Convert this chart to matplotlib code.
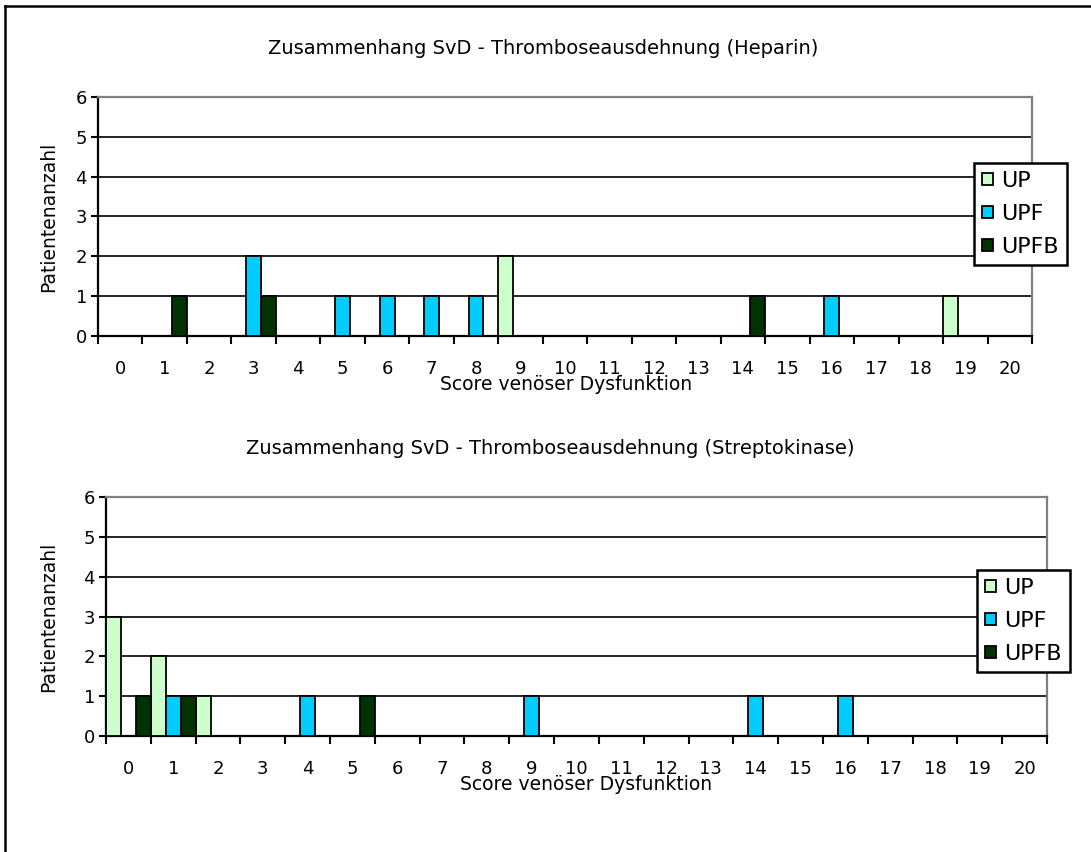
import matplotlib
matplotlib.use('Agg')
import matplotlib.pyplot as plt
from matplotlib.patches import Patch
from matplotlib.lines import Line2D
import numpy as np

# ---------------- data ----------------
scores = list(range(21))
score_labels = [str(s) for s in scores]
series_names = ['UP', 'UPF', 'UPFB']
series_colors = ['#CCFFCC', '#00CCFF', '#003300']

hep_up   = [0, 0, 0, 0, 0, 0, 0, 0, 0, 2, 0, 0, 0, 0, 0, 0, 0, 0, 0, 1, 0]
hep_upf  = [0, 0, 0, 2, 0, 1, 1, 1, 1, 0, 0, 0, 0, 0, 0, 0, 1, 0, 0, 0, 0]
hep_upfb = [0, 1, 0, 1, 0, 0, 0, 0, 0, 0, 0, 0, 0, 0, 1, 0, 0, 0, 0, 0, 0]

strep_up   = [3, 2, 1, 0, 0, 0, 0, 0, 0, 0, 0, 0, 0, 0, 0, 0, 0, 0, 0, 0, 0]
strep_upf  = [0, 1, 0, 0, 1, 0, 0, 0, 0, 1, 0, 0, 0, 0, 1, 0, 1, 0, 0, 0, 0]
strep_upfb = [1, 1, 0, 0, 0, 1, 0, 0, 0, 0, 0, 0, 0, 0, 0, 0, 0, 0, 0, 0, 0]

title_hep = 'Zusammenhang SvD - Thromboseausdehnung (Heparin)'
title_strep = 'Zusammenhang SvD - Thromboseausdehnung (Streptokinase)'
xlabel = 'Score venöser Dysfunktion'
ylabel = 'Patientenanzahl'
yticks = [0, 1, 2, 3, 4, 5, 6]

# ---------------- style ----------------
plt.rcParams['font.family'] = ['DejaVu Sans']
FS_TICK = 13
FS_TITLE = 14
FS_LABEL = 13.5
W, H = 1091, 852
fig = plt.figure(figsize=(W / 100, H / 100), dpi=100)


def rect(l, r, t, b):
    return [l / W, 1 - b / H, (r - l) / W, (b - t) / H]


def draw(ax, data, legend_box, legend_fs):
    x = np.arange(len(scores))
    for k, (vals, c) in enumerate(zip(data, series_colors)):
        ax.bar(x + (k - 1) / 3, vals, width=1 / 3, color=c,
               edgecolor='black', linewidth=1.3, zorder=3)
    ax.set_xlim(-0.5, len(scores) - 0.5)
    ax.set_ylim(0, 6)
    ax.set_yticks(yticks)
    ax.set_yticklabels([str(v) for v in yticks], fontsize=FS_TICK)
    ax.yaxis.grid(True, color='black', linewidth=1.2)
    ax.set_axisbelow(True)
    ax.set_xticks(np.arange(-0.5, len(scores), 1))
    ax.set_xticklabels([])
    ax.set_xticks(x, minor=True)
    ax.set_xticklabels(score_labels, minor=True, fontsize=FS_TICK)
    ax.tick_params(axis='x', which='major', direction='out', length=6,
                   width=1.5, color='black')
    ax.tick_params(axis='x', which='minor', length=0, pad=17)
    ax.tick_params(axis='y', direction='out', length=5, width=1.5, pad=3)
    for s in ['top', 'right']:
        ax.spines[s].set_color('#808080')
        ax.spines[s].set_linewidth(1.6)
    for s in ['left', 'bottom']:
        ax.spines[s].set_color('black')
        ax.spines[s].set_linewidth(1.6)
    handles = [Patch(facecolor=c, edgecolor='black', linewidth=1.3)
               for c in series_colors]
    l, t = legend_box
    leg = ax.legend(handles, series_names, loc='upper left',
                    bbox_to_anchor=(l / W, 1 - t / H),
                    bbox_transform=fig.transFigure,
                    fontsize=legend_fs, frameon=True, fancybox=False,
                    edgecolor='black', framealpha=1, borderpad=0.36,
                    handlelength=0.5, handleheight=0.5, handletextpad=0.38,
                    labelspacing=0.58, borderaxespad=0)
    leg.get_frame().set_linewidth(1.8)
    leg.set_zorder(10)


ax1 = fig.add_axes(rect(98, 1032, 97, 336))
draw(ax1, [hep_up, hep_upf, hep_upfb], (974, 163), 16)
ax2 = fig.add_axes(rect(106, 1047, 497, 736))
draw(ax2, [strep_up, strep_upf, strep_upfb], (977, 570), 16)

# titles and axis labels
fig.text(543 / W, 1 - 48 / H, title_hep, ha='center', va='center', fontsize=FS_TITLE)
fig.text(550 / W, 1 - 449 / H, title_strep, ha='center', va='center', fontsize=FS_TITLE)
fig.text(566 / W, 1 - 385 / H, xlabel, ha='center', va='center', fontsize=FS_LABEL)
fig.text(586 / W, 1 - 785 / H, xlabel, ha='center', va='center', fontsize=FS_LABEL)
fig.text(49 / W, 1 - 217 / H, ylabel, ha='center', va='center', rotation=90, fontsize=FS_LABEL)
fig.text(49 / W, 1 - 617 / H, ylabel, ha='center', va='center', rotation=90, fontsize=FS_LABEL)

# outer chart frame (left and top edges visible)
fig.add_artist(Line2D([5 / W, 5 / W], [0, 1 - 6 / H], color='black', linewidth=1.8,
                      transform=fig.transFigure))
fig.add_artist(Line2D([5 / W, 1], [1 - 6 / H, 1 - 6 / H], color='black', linewidth=1.8,
                      transform=fig.transFigure))

fig.savefig('out.png', dpi=100)
